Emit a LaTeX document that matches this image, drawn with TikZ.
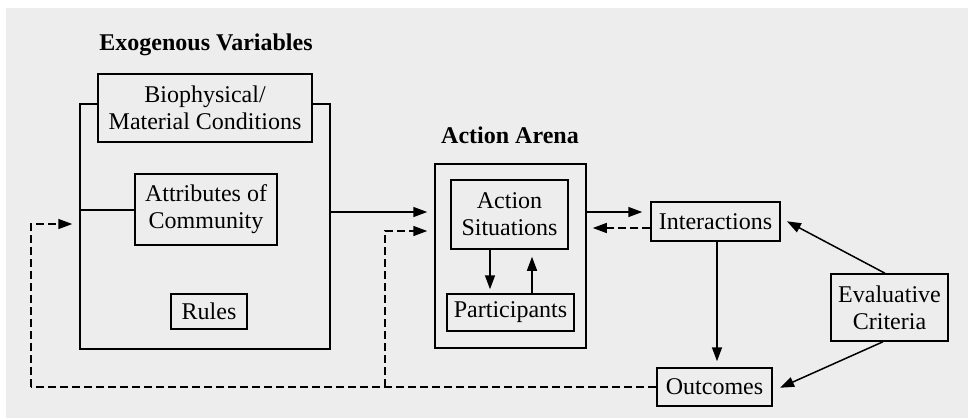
\documentclass[tikz,border=0pt]{standalone}
\usepackage{fontspec}
\setmainfont{Liberation Serif}
\usetikzlibrary{arrows.meta}
\definecolor{bgc}{HTML}{EDEDED}
\tikzset{
  box/.style={draw=black, line width=1.5pt, fill=bgc, align=center, inner sep=0pt,
    font=\fontsize{24}{27}\selectfont},
  frame/.style={draw=black, line width=1.5pt, inner sep=0pt},
  ttl/.style={font=\fontsize{24}{27}\selectfont\bfseries, inner sep=0pt},
  conn/.style={line width=1.5pt},
  arr/.style={conn, -{Triangle[length=14pt,width=10pt]}},
  darr/.style={arr, dash pattern=on 8pt off 4pt},
  dline/.style={conn, dash pattern=on 8pt off 4pt}
}
\begin{document}
\begin{tikzpicture}[x=1pt,y=-1pt]
\useasboundingbox (0,0) rectangle (968,418);
\fill[white] (0,0) rectangle (968,418);
\fill[bgc] (6,8) rectangle (968,418);
% exogenous
\node[ttl] (exot) at (206,45) {Exogenous Variables};
\node[frame, minimum width=250pt, minimum height=245pt] (exo) at (205,226.5) {};
\node[box, minimum width=214pt, minimum height=68pt] (bio) at (205,108) {Biophysical/\\Material Conditions};
\node[box, minimum width=142pt, minimum height=71pt] (attr) at (206,209.5) {Attributes of\\Community};
\node[box, minimum width=76pt, minimum height=35pt] (rules) at (209,311.5) {Rules};
% action arena
\node[ttl] (arenat) at (510,135) {Action Arena};
\node[frame, minimum width=151pt, minimum height=184pt] (arena) at (510.5,256) {};
\node[box, minimum width=117pt, minimum height=69pt] (sit) at (509.5,214.5) {Action\\Situations};
\node[box, minimum width=127pt, minimum height=37pt] (part) at (510.5,312.5) {Participants};
% right side
\node[box, minimum width=129pt, minimum height=39pt] (inter) at (715.5,221.5) {Interactions};
\node[box, minimum width=115pt, minimum height=38pt] (out) at (714.5,387) {Outcomes};
\node[box, minimum width=117pt, minimum height=67pt] (eval) at (889.5,307.5) {Evaluative\\Criteria};
% coordinates
\coordinate (c1) at (31,387);
\coordinate (c2) at (31,224);
\coordinate (c3) at (385,387);
\coordinate (c4) at (385,231);
\coordinate (c5) at (0,210);
% connectors
\draw[conn] (exo.west |- c5) -- (attr.west |- c5);
\draw[arr, shorten >=7pt] (exo.east |- 0,212) -- (arena.west |- 0,212);
\draw[dline] (out.west) -- (c1);
\draw[darr, shorten >=7pt] (c1) -- (c2) -- (exo.west |- c2);
\draw[darr, shorten >=7pt] (c3) -- (c4) -- (arena.west |- c4);
\draw[arr, shorten >=8pt] (arena.east |- 0,212) -- (inter.west |- 0,212);
\draw[darr, shorten >=6pt] (inter.west |- 0,228) -- (arena.east |- 0,228);
\draw[arr, shorten >=4pt] (sit.south -| 490,0) -- (part.north -| 490,0);
\draw[arr, shorten >=7pt] (part.north -| 532,0) -- (sit.south -| 532,0);
\draw[arr, shorten >=6pt] (inter.south -| 717,0) -- (out.north -| 717,0);
\draw[arr, shorten >=7pt] (eval.north -| 885,0) -- (inter.east |- 0,218);
\draw[arr, shorten >=8pt] (eval.south -| 883,0) -- (out.east |- 0,391);
\end{tikzpicture}
\end{document}
